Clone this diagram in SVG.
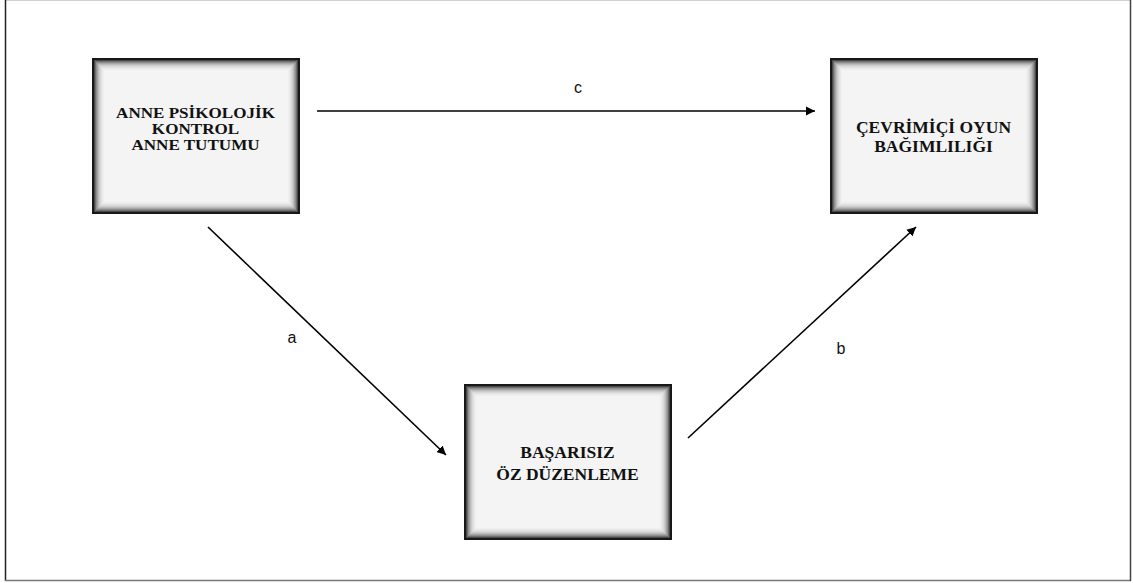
<svg xmlns="http://www.w3.org/2000/svg" width="1133" height="583" viewBox="0 0 1133 583">
  <defs>
    <style>
      .box { fill: #f4f4f4; }
      .rim { fill: none; stroke: #000; }
      .title { font-family: "Liberation Serif", "Times New Roman", serif; font-weight: bold; font-size: 17.5px; fill: #111; text-anchor: middle; }
      .small { font-size: 14px; }
      .lbl { font-family: "Liberation Sans", Arial, sans-serif; font-size: 16px; fill: #111; text-anchor: middle; }
      .edge { stroke: #000; stroke-width: 1.6; fill: none; marker-end: url(#head); }
    </style>
    <!-- shaded panel: light face darkening towards a black border -->
    <g id="panel">
      <rect class="box" x="0" y="0" width="208" height="156"/>
      <rect class="rim" x="1" y="1" width="206" height="154" stroke-width="2" stroke-opacity="0.9"/>
      <rect class="rim" x="2.5" y="2.5" width="203" height="151" stroke-opacity="0.7"/>
      <rect class="rim" x="3.5" y="3.5" width="201" height="149" stroke-opacity="0.55"/>
      <rect class="rim" x="4.5" y="4.5" width="199" height="147" stroke-opacity="0.42"/>
      <rect class="rim" x="5.5" y="5.5" width="197" height="145" stroke-opacity="0.32"/>
      <rect class="rim" x="6.5" y="6.5" width="195" height="143" stroke-opacity="0.23"/>
      <rect class="rim" x="7.5" y="7.5" width="193" height="141" stroke-opacity="0.16"/>
      <rect class="rim" x="8.5" y="8.5" width="191" height="139" stroke-opacity="0.11"/>
      <rect class="rim" x="9.5" y="9.5" width="189" height="137" stroke-opacity="0.07"/>
      <rect class="rim" x="10.5" y="10.5" width="187" height="135" stroke-opacity="0.04"/>
      <rect class="rim" x="11.5" y="11.5" width="185" height="133" stroke-opacity="0.02"/>
    </g>
    <marker id="head" viewBox="0 0 10 10" refX="10" refY="5" markerWidth="9" markerHeight="10" markerUnits="userSpaceOnUse" orient="auto">
      <path d="M0,0 L10,5 L0,10 z" fill="#000"/>
    </marker>
  </defs>

  <rect x="0" y="0" width="1133" height="583" fill="#fff"/>
  <!-- outer frame -->
  <line x1="5" y1="0.5" x2="1131" y2="0.5" stroke="#d0d0d0" stroke-width="1"/>
  <line x1="5.5" y1="0" x2="5.5" y2="581" stroke="#222" stroke-width="1.5"/>
  <line x1="5" y1="580.5" x2="1131" y2="580.5" stroke="#777" stroke-width="1.5"/>
  <line x1="1130.5" y1="0" x2="1130.5" y2="581" stroke="#444" stroke-width="1.5"/>

  <g id="connectors">
    <line class="edge" x1="317" y1="111" x2="815" y2="111"/>
    <line class="edge" x1="208" y1="227" x2="446" y2="455"/>
    <line class="edge" x1="688" y1="438" x2="916" y2="227"/>
    <text class="lbl" x="578" y="93">c</text>
    <text class="lbl" x="292" y="343">a</text>
    <text class="lbl" x="841" y="354">b</text>
  </g>

  <g id="node-mother">
    <use href="#panel" x="92" y="58"/>
    <g transform="translate(195.5 0) scale(1.22 1)">
      <text class="title small" x="0" y="118.5">ANNE PSİKOLOJİK</text>
      <text class="title small" x="0" y="134.5">KONTROL</text>
      <text class="title small" x="0" y="150.5">ANNE TUTUMU</text>
    </g>
  </g>

  <g id="node-gaming">
    <use href="#panel" x="830" y="58"/>
    <text class="title" x="933.5" y="133">ÇEVRİMİÇİ OYUN</text>
    <text class="title" x="933.5" y="152">BAĞIMLILIĞI</text>
  </g>

  <g id="node-selfreg">
    <use href="#panel" x="464" y="384"/>
    <text class="title" x="567.5" y="458">BAŞARISIZ</text>
    <text class="title" x="567.5" y="480">ÖZ DÜZENLEME</text>
  </g>
</svg>
